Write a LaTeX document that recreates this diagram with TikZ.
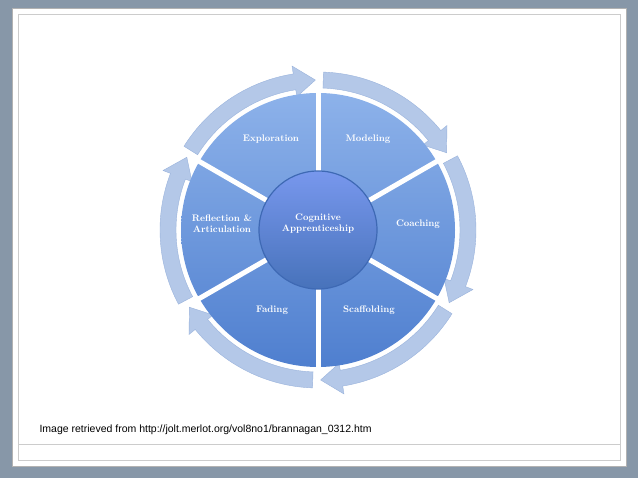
\documentclass[tikz,border=0pt]{standalone}
\usepackage{fontspec}
\newfontfamily\capfont{Liberation Sans}
\usetikzlibrary{calc}
\definecolor{bgc}{HTML}{8797A8}
\definecolor{segtop}{HTML}{8DB2EA}
\definecolor{segbot}{HTML}{4F7FCF}
\definecolor{ringc}{HTML}{B4C8E8}
\definecolor{ringd}{HTML}{9AB3DC}
\definecolor{cenb}{HTML}{3E69B4}
\begin{document}
\begin{tikzpicture}[x=1pt,y=1pt,
  lbl/.style={text=white,font=\bfseries\fontsize{9.5}{11}\selectfont,align=center}]
\fill[bgc] (0,0) rectangle (638,478);
\fill[white,draw=gray!60] (12,12) rectangle (626,470);
\draw[gray!40] (18,18) rectangle (620,464);
\draw[gray!40] (18,34) -- (620,34);
\coordinate (C) at (318,248);
% arrows
\foreach \b in {90,30,-30,-90,-150,150}{
  \fill[ringc,draw=ringd] ($(C)+(\b+58:142)$) arc[start angle=\b+58,end angle=\b+9,radius=142]
   -- ($(C)+(\b+9:135)$) -- ($(C)+(\b+1:150)$) -- ($(C)+(\b+9:166)$) -- ($(C)+(\b+9:158)$)
   arc[start angle=\b+9,end angle=\b+58,radius=158] -- cycle;
}
% segments
\shade[top color=segtop,bottom color=segbot] (C) circle[radius=137];
\foreach \b in {90,30,-30,-90,-150,150}{
  \draw[white,line width=5pt] (C) -- ($(C)+(\b:139)$);
}
\shade[top color=segtop!85!blue,bottom color=segbot!90!black,draw=cenb,line width=1.2pt] (C) circle[radius=59];
\node[lbl] (ce) at (318,254) {Cognitive\\Apprenticeship};
\node[lbl] (ex) at (271,339) {Exploration};
\node[lbl] (mo) at (368,339) {Modeling};
\node[lbl] (re) at (222,254) {Reflection \&\\Articulation};
\node[lbl] (co) at (418,254) {Coaching};
\node[lbl] (fa) at (272,168) {Fading};
\node[lbl] (sc) at (369,168) {Scaffolding};
\node[anchor=west,font=\capfont\fontsize{10.5}{12}\selectfont] (cap) at (36,48) {Image retrieved from http://jolt.merlot.org/vol8no1/brannagan\_0312.htm};
\end{tikzpicture}
\end{document}
